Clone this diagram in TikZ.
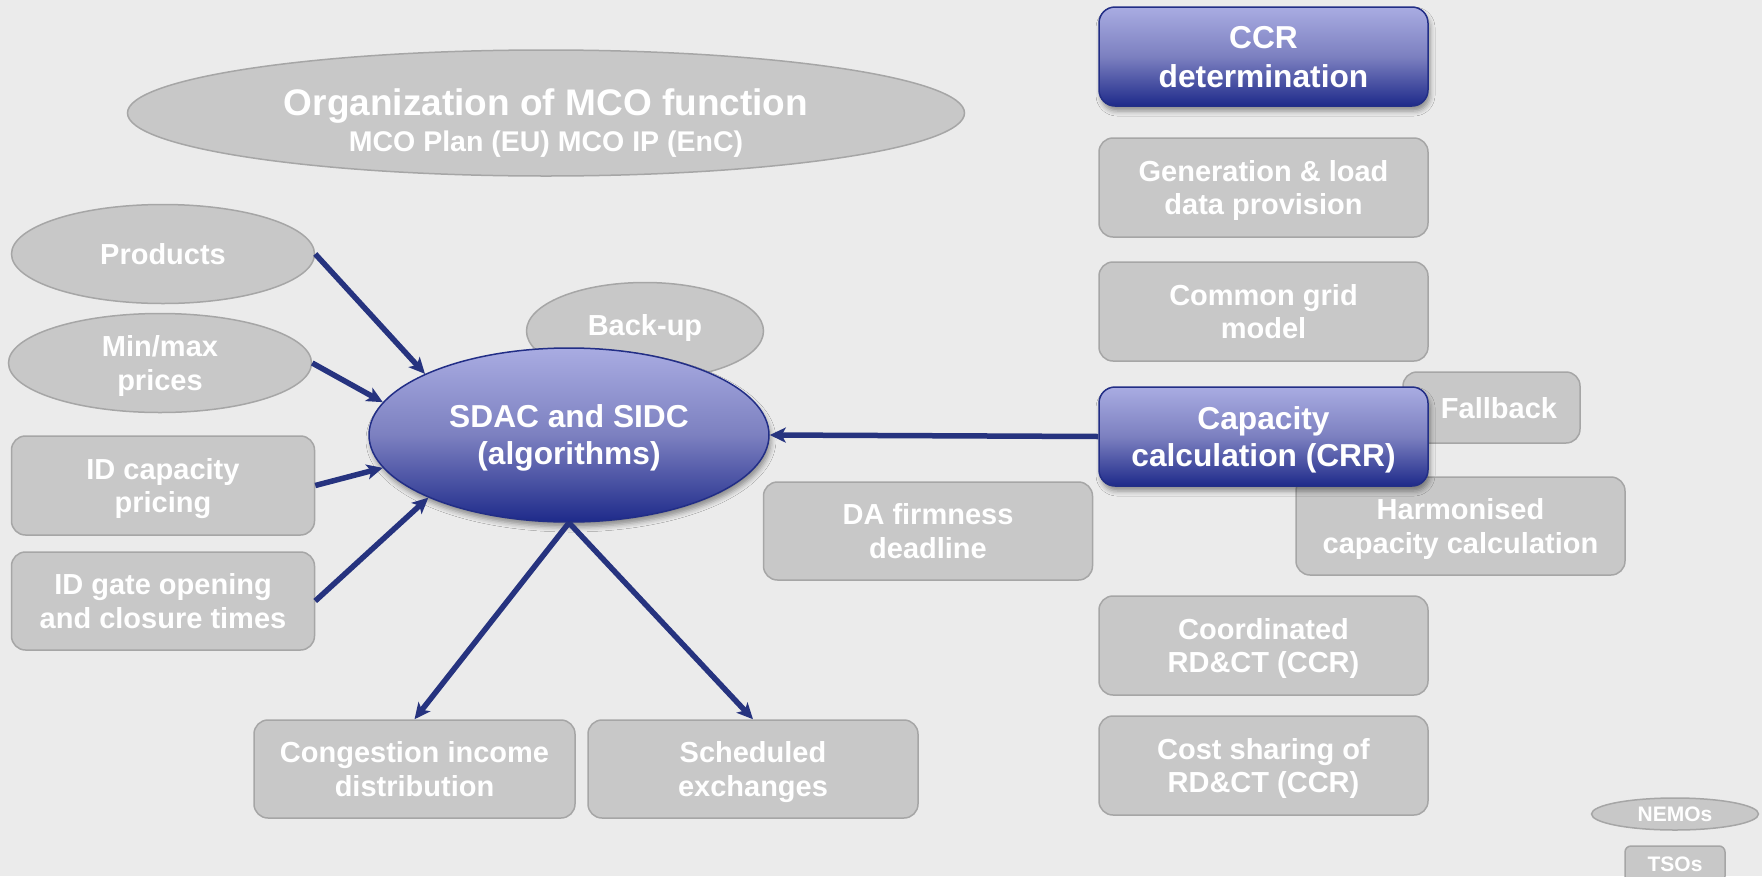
\documentclass[tikz,border=0pt]{standalone}
\usepackage{fontspec}
\setmainfont{Liberation Sans}
\usetikzlibrary{shapes.geometric,arrows.meta,shadows.blur}
\definecolor{bgc}{HTML}{EBEBEB}
\definecolor{gfill}{HTML}{C8C8C8}
\definecolor{gline}{HTML}{A6A6A6}
\definecolor{btop}{HTML}{A9ACE2}
\definecolor{bmid}{HTML}{7C80C0}
\definecolor{bbot}{HTML}{1E2A8A}
\definecolor{bline}{HTML}{222E86}
\definecolor{arrc}{HTML}{26337F}
\newcommand\grayfnt{\fontsize{29}{33.4}\selectfont\bfseries}
\newcommand\bluefnt{\fontsize{31.7}{36.7}\selectfont\bfseries}
\tikzset{
 gbox/.style={draw=gline, line width=1.5pt, fill=gfill, rounded corners=14pt, text=white, font=\grayfnt, align=center, inner sep=0pt, text depth=0pt},
 gell/.style={ellipse, draw=gline, line width=1.5pt, fill=gfill, text=white, font=\grayfnt, align=center, inner sep=0pt, text depth=0pt},
 bshade/.style={draw=bline, line width=1.5pt, top color=btop, bottom color=bbot, middle color=bmid, text=white, font=\bluefnt, align=center, inner sep=0pt, text depth=0pt,
   blur shadow={shadow xshift=2pt, shadow yshift=-5pt, shadow blur radius=5pt, shadow opacity=40}},
 bbox/.style={bshade, rounded corners=16pt},
 conn/.style={draw=arrc, line width=5.5pt, -{Stealth[length=16pt,width=15pt,inset=4pt]}},
}
\begin{document}
\begin{tikzpicture}[x=1pt,y=-1pt]
\useasboundingbox (0,0) rectangle (1762,876);
\fill[bgc] (0,0) rectangle (1762,876);

% title
\node[gell, minimum width=837pt, minimum height=126pt, font=\fontsize{37}{36.7}\selectfont\bfseries] (title) at (546,113)
 {\rule{0pt}{41pt}Organization of MCO function\\
  \fontsize{28.5}{36.7}\selectfont MCO Plan (EU) MCO IP (EnC)};

% left inputs
\node[gell, minimum width=303pt, minimum height=99pt] (products) at (163,254) {Products};
\node[gell, minimum width=303pt, minimum height=99pt] (minmax) at (160,363) {Min/max\\prices};
\node[gbox, minimum width=303pt, minimum height=99pt] (idcap) at (163,485.5) {ID capacity\\pricing};
\node[gbox, minimum width=303pt, minimum height=98pt] (idgate) at (163,601) {ID gate opening\\and closure times};

% back-up and SDAC
\node[gell, minimum width=237pt, minimum height=97pt] (backup) at (645,331) {\raisebox{12pt}{Back-up}};
\node[bshade, ellipse, minimum width=400pt, minimum height=174pt, font=\fontsize{31.7}{37}\selectfont\bfseries] (sdac) at (569,435) {SDAC and SIDC\\(algorithms)};

% bottom outputs
\node[gbox, minimum width=321pt, minimum height=98pt] (cong) at (414.5,769) {Congestion income\\distribution};
\node[gbox, minimum width=330pt, minimum height=98pt] (sched) at (753,769) {Scheduled\\exchanges};
\node[gbox, minimum width=329pt, minimum height=98pt] (dafirm) at (928,531) {DA firmness\\deadline};

% right column
\node[bbox, minimum width=329pt, minimum height=99pt, font=\fontsize{31.7}{39}\selectfont\bfseries] (ccr) at (1263.5,56.5) {CCR\\determination};
\node[gbox, minimum width=329pt, minimum height=99pt] (genload) at (1263.5,187.5) {Generation \& load\\data provision};
\node[gbox, minimum width=329pt, minimum height=99pt] (cgm) at (1263.5,311.5) {Common grid\\model};
\node[gbox, minimum width=177pt, minimum height=71pt] (fallback) at (1491.5,407.5) {\hspace*{15pt}Fallback};
\node[gbox, minimum width=329pt, minimum height=98pt] (harmon) at (1460.5,526) {Harmonised\\capacity calculation};
\node[bbox, minimum width=329pt, minimum height=99pt] (capcalc) at (1263.5,436.5) {Capacity\\calculation (CRR)};
\node[gbox, minimum width=329pt, minimum height=99pt] (coord) at (1263.5,645.5) {Coordinated\\RD\&CT (CCR)};
\node[gbox, minimum width=329pt, minimum height=99pt] (cost) at (1263.5,765.5) {Cost sharing of\\RD\&CT (CCR)};

% legend
\node[gell, minimum width=167pt, minimum height=32pt, font=\fontsize{21}{24}\selectfont\bfseries] (nemos) at (1675,814) {NEMOs};
\node[gbox, rounded corners=6pt, minimum width=100pt, minimum height=36pt, font=\fontsize{21}{24}\selectfont\bfseries] (tsos) at (1675,864) {TSOs};

% connectors
\draw[conn] (products.east) -- (sdac.157);
\draw[conn] (minmax.east) -- (sdac.170);
\draw[conn] (idcap.east) -- (sdac.190);
\draw[conn] (idgate.east) -- (sdac.204);
\draw[conn] (sdac.south) -- (cong.north);
\draw[conn] (sdac.south) -- (sched.north);
\draw[conn] (capcalc.west) -- (sdac.east);
\end{tikzpicture}
\end{document}
